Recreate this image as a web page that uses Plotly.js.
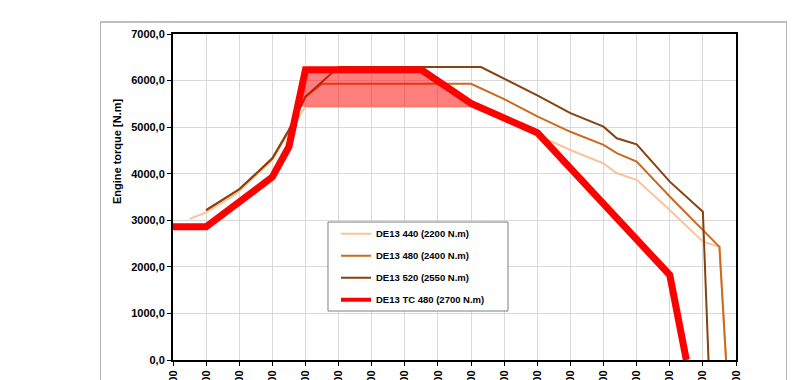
<!DOCTYPE html>
<html><head><meta charset="utf-8">
<script src="https://cdn.plot.ly/plotly-3.0.1.min.js"></script>
<style>
html,body{margin:0;padding:0;background:#fff;}
#wrap{position:relative;width:800px;height:380px;overflow:hidden;}
#chart{position:absolute;left:0;top:0;width:800px;height:380px;}
#frame{position:absolute;left:100px;top:21px;width:685px;height:420px;border:1px solid #b4b4b4;border-top:2px solid #c0c0c0;pointer-events:none;}
</style></head><body>
<div id="wrap"><div id="chart"></div><div id="frame"></div></div>
<script>
// ---- data (engine speed in rpm, torque in N.m) ----
const rpm440 = [550, 600, 690, 710, 800, 850, 900, 1400, 1500, 1600, 1700, 1800, 1840, 1900, 2000, 2100, 2150, 2170];
const tq440  = [3030, 3170, 3560, 3690, 4290, 4900, 5440, 5440, 5150, 4830, 4510, 4220, 4010, 3870, 3220, 2540, 2430, 0];

const rpm480 = [600, 700, 800, 850, 900, 950, 1400, 1500, 1600, 1700, 1800, 1840, 1900, 2000, 2150, 2170];
const tq480  = [3220, 3665, 4330, 4940, 5654, 5930, 5930, 5600, 5230, 4900, 4620, 4440, 4260, 3510, 2430, 0];

const rpm520 = [600, 700, 800, 850, 900, 1000, 1430, 1500, 1600, 1700, 1800, 1840, 1900, 2000, 2100, 2117];
const tq520  = [3220, 3665, 4330, 4940, 5654, 6290, 6290, 6040, 5680, 5300, 5010, 4760, 4630, 3830, 3185, 0];

const rpmTC = [500, 600, 800, 850, 900, 1250, 1400, 1500, 1600, 2000, 2050];
const tqTC  = [2860, 2860, 3930, 4580, 6230, 6230, 5510, 5190, 4880, 1825, 0];

const seriesNames = ["DE13 440 (2200 N.m)", "DE13 480 (2400 N.m)", "DE13 520 (2550 N.m)", "DE13 TC 480 (2700 N.m)"];
const xTickVals = [500, 600, 700, 800, 900, 1000, 1100, 1200, 1300, 1400, 1500, 1600, 1700, 1800, 1900, 2000, 2100, 2200];
const yTickVals = [0, 1000, 2000, 3000, 4000, 5000, 6000, 7000];

// ---- highlighted zone: TC curve above the DE13 440 plateau ----
function clipAbove(xs, ys, level){
  const px = [], py = [];
  for (let i = 0; i < xs.length; i++){
    const above = ys[i] >= level;
    if (i > 0){
      const prevAbove = ys[i-1] >= level;
      if (above !== prevAbove){
        const t = (level - ys[i-1]) / (ys[i] - ys[i-1]);
        px.push(xs[i-1] + t * (xs[i] - xs[i-1])); py.push(level);
      }
    }
    if (above){ px.push(xs[i]); py.push(ys[i]); }
  }
  return {x: px, y: py};
}
const fillLevel = Math.max(...tq440);
const zone = clipAbove(rpmTC, tqTC, fillLevel);

const FONT = "Liberation Sans, Arial, sans-serif";
const traces = [
  {x: rpm440, y: tq440, name: seriesNames[0], mode: "lines", legendgroup: "a",
   line: {color: "#f8c49a", width: 2}},
  {x: rpm480, y: tq480, name: seriesNames[1], mode: "lines", legendgroup: "b",
   line: {color: "#cc6a20", width: 2}},
  {x: rpm520, y: tq520, name: seriesNames[2], mode: "lines", legendgroup: "c",
   line: {color: "#86420f", width: 2}},
  {x: zone.x, y: zone.y, mode: "lines", fill: "toself", showlegend: false, hoverinfo: "skip",
   fillcolor: "rgba(255,0,0,0.5)", line: {color: "rgba(230,20,20,0.9)", width: 1}},
  {x: rpmTC, y: tqTC, name: seriesNames[3], mode: "lines", legendgroup: "d", showlegend: false,
   line: {color: "#ff0000", width: 7}},
  // legend entry for the TC curve (thinner sample, as in the original legend)
  {x: [null], y: [null], name: seriesNames[3], mode: "lines", legendgroup: "d",
   line: {color: "#ff0000", width: 4}}
];

const layout = {
  width: 800, height: 380,
  margin: {l: 173, r: 64, t: 34, b: 20, pad: 0},
  paper_bgcolor: "rgba(0,0,0,0)", plot_bgcolor: "#fff",
  separators: ",.",
  font: {family: FONT, color: "#000"},
  showlegend: true,
  legend: {x: 0.2895, xanchor: "left", y: 0.432, yanchor: "top",
           bgcolor: "rgba(0,0,0,0)", borderwidth: 0, tracegroupgap: 3,
           font: {family: FONT, size: 9.5, weight: "bold", color: "#000"}},
  xaxis: {range: [500, 2200], tickvals: xTickVals, ticktext: xTickVals.map(String),
          tickangle: -90, tickfont: {family: FONT, size: 11, weight: "bold"},
          showgrid: true, gridcolor: "#d9d9d9", gridwidth: 1,
          showline: true, linecolor: "#000", linewidth: 2, mirror: true,
          ticks: "outside", ticklen: 4, tickcolor: "#000", zeroline: false, automargin: false},
  yaxis: {range: [0, 7000], tickvals: yTickVals, tickformat: ".1f",
          tickfont: {family: FONT, size: 11, weight: "bold"},
          showgrid: true, gridcolor: "#d9d9d9", gridwidth: 1,
          showline: true, linecolor: "#000", linewidth: 2, mirror: true,
          ticks: "outside", ticklen: 4, tickcolor: "#000", zeroline: false, automargin: false},
  shapes: [
    {type: "rect", xref: "paper", yref: "paper", x0: 0.2753, x1: 0.595, y0: 0.1503, y1: 0.4233,
     layer: "above", fillcolor: "#fff", line: {color: "#7f7f7f", width: 1}}
  ],
  annotations: [
    {text: "Engine torque [N.m]", xref: "paper", yref: "paper", x: -0.0995, y: 0.641,
     xanchor: "center", yanchor: "middle", textangle: -90, showarrow: false,
     font: {family: FONT, size: 11, weight: "bold", color: "#000"}}
  ]
};

Plotly.newPlot("chart", traces, layout, {displayModeBar: false, staticPlot: true});
</script>
</body></html>
